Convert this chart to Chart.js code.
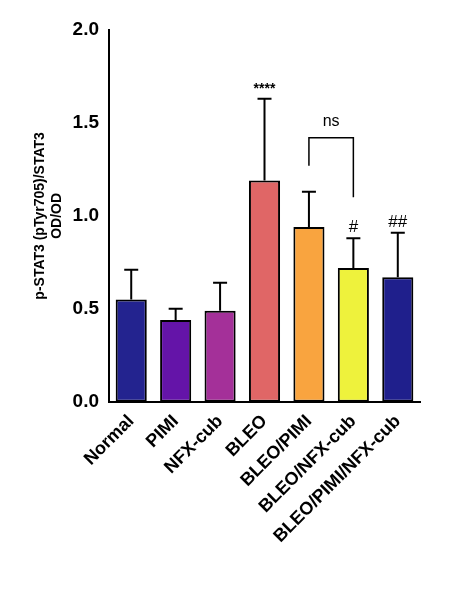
<!DOCTYPE html>
<html><head><script src="https://cdn.jsdelivr.net/npm/chart.js@4"></script>
<style>body{margin:0;background:#fff}#w{width:472px;height:600px}</style></head>
<body><div id="w"><canvas id="c"></canvas></div>
<script>
const categories=["Normal","PIMI","NFX-cub","BLEO","BLEO/PIMI","BLEO/NFX-cub","BLEO/PIMI/NFX-cub"];
const means=[0.55,0.44,0.49,1.19,0.94,0.72,0.67];
const errors=[0.16,0.06,0.15,0.44,0.19,0.16,0.24];
const marks=["","","","****","","#","##"];
const colors=["#23238f","#6414a8","#a43099","#e06666","#f9a43f","#eef23c","#1f1f8c"];
const errPlugin={id:'err',afterDatasetsDraw(ch){
 const c=ch.ctx,x=ch.scales.x,y=ch.scales.y;c.save();c.strokeStyle='#000';c.lineWidth=2;c.fillStyle='#000';
 c.textAlign='center';
 means.forEach((m,i)=>{const px=x.getPixelForValue(i),top=y.getPixelForValue(m+errors[i]),b=y.getPixelForValue(m);
  c.beginPath();c.moveTo(px,b);c.lineTo(px,top);c.moveTo(px-7,top);c.lineTo(px+7,top);c.stroke();
  if(marks[i]){c.font=(marks[i][0]=='*'?'bold 14px':'17px')+' "Liberation Sans",Arial';c.fillText(marks[i],px,top-6);}});
 const a=x.getPixelForValue(4),bb=x.getPixelForValue(5),yb=y.getPixelForValue(1.42),yl=y.getPixelForValue(1.27);
 c.lineWidth=1.5;c.beginPath();c.moveTo(a,yl);c.lineTo(a,yb);c.lineTo(bb,yb);c.lineTo(bb,y.getPixelForValue(1.1));c.stroke();
 c.font='16px "Liberation Sans",Arial';c.fillText('ns',(a+bb)/2,yb-12);c.restore();}};
new Chart(document.getElementById('c'),{type:'bar',
 data:{labels:categories,datasets:[{data:means,backgroundColor:colors,borderColor:'#000',borderWidth:2,borderSkipped:false,barPercentage:0.7,categoryPercentage:1}]},
 plugins:[errPlugin],
 options:{responsive:true,maintainAspectRatio:false,animation:false,layout:{padding:{top:30,right:52,bottom:50,left:28}},
  plugins:{legend:{display:false},tooltip:{enabled:false}},
  scales:{y:{min:0,max:2,ticks:{stepSize:0.5,color:'#000',font:{size:19,weight:'bold',family:'"Liberation Sans",Arial'},callback:v=>v.toFixed(1)},
    grid:{display:false,drawTicks:true,tickLength:7,tickColor:'#000',tickWidth:2},border:{color:'#000',width:2},
    title:{display:true,text:['p-STAT3 (pTyr705)/STAT3','OD/OD'],color:'#000',font:{size:14,weight:'bold',family:'"Liberation Sans",Arial'}}},
   x:{ticks:{minRotation:45,maxRotation:45,color:'#000',font:{size:18,weight:'bold',family:'"Liberation Sans",Arial'}},
    grid:{display:false,tickLength:6,tickColor:'#000'},border:{color:'#000',width:2}}}}});
</script></body></html>
